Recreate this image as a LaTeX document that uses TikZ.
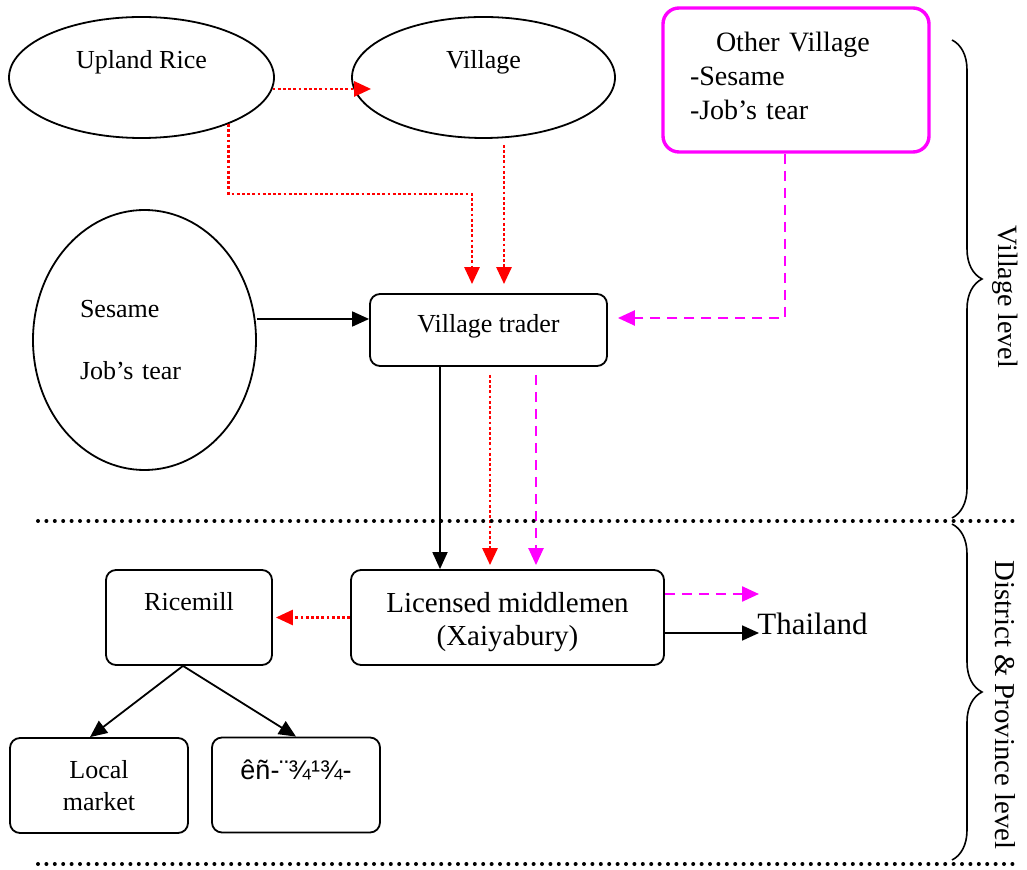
\documentclass[tikz,border=0pt]{standalone}
\usepackage{fontspec}
\setmainfont{Liberation Serif}
\newfontfamily\laofont{Liberation Sans}
\usetikzlibrary{arrows.meta, calc, shapes.geometric, decorations.pathreplacing}
\definecolor{vmagenta}{RGB}{255,0,255}
\definecolor{vred}{RGB}{255,0,0}
\tikzset{every node/.style={font=\fontsize{13}{15.6}\selectfont}}
\tikzset{oval/.style={draw, ellipse, line width=0.9pt}}
\tikzset{rbox/.style={draw, rounded corners=5pt, line width=0.9pt, minimum height=47.5pt}}
\tikzset{headtip/.style={-{Triangle[length=8.5pt, width=7.5pt]}}}
\tikzset{flow/.style={headtip, line width=0.9pt}}
\tikzset{riceflow/.style={headtip, vred, line width=1.4pt, dash pattern=on 1.4pt off 1.2pt}}
\tikzset{otherflow/.style={headtip, vmagenta, line width=1.2pt, dash pattern=on 5pt off 3.5pt}}
\tikzset{levelline/.style={line width=2pt, line cap=round, dash pattern=on 0pt off 4.2pt}}
\tikzset{levelbrace/.style={decorate, decoration={brace, amplitude=15pt}, line width=0.8pt}}

\begin{document}
\begin{tikzpicture}[x=0.5pt, y=-0.5pt]
\useasboundingbox (0,0) rectangle (1027,870);
\node[oval, minimum width=132.5pt, minimum height=60.5pt, text depth=18pt] (upland) at (141.5,77.5) {Upland Rice};
\node[oval, minimum width=131.5pt, minimum height=60.5pt, text depth=18pt] (village) at (483.5,77.5) {Village};
\node[oval, minimum width=111.5pt, minimum height=130pt, text width=64.5pt, align=left] (crops) at (144.5,340) {Sesame\\[15.4pt]Job's tear};
\node[rbox, minimum width=118.5pt, minimum height=36pt, text depth=7pt] (trader) at (488.5,330) {Village trader};
\node[rbox, draw=vmagenta, line width=1.7pt, rounded corners=8pt, minimum width=133pt, minimum height=72pt,
      text width=106pt, align=left, font=\fontsize{14}{17}\selectfont] (other) at (796,80)
      {\hspace*{13pt}Other Village\\-Sesame\\-Job's tear\rule[-4pt]{0pt}{4pt}};
\node[rbox, minimum width=156.5pt, align=center, font=\fontsize{14.5}{16.5}\selectfont] (lic) at (507.5,617.5)
      {\rule{0pt}{14.9pt}Licensed middlemen\\(Xaiyabury)};
\node[rbox, minimum width=83pt, text depth=16pt] (mill) at (189,617.5) {Ricemill};
\node[rbox, minimum width=89pt, align=center] (local) at (99,785.5) {Local\\[0.4pt]market};
\node[rbox, minimum width=84pt, text depth=15pt, font=\laofont\fontsize{13.5}{16}\selectfont] (lao) at (296,785) {êñ-¨¾¹¾-};
\node[anchor=west, inner sep=0pt, font=\fontsize{15.5}{18}\selectfont] (thai) at (757,624) {Thailand};

\draw[riceflow, shorten >=-10pt] (upland.-5.5) -- (upland.-5.5 -| village.west);
\coordinate (riceA) at ($(trader.north)+(-16.5,-9)$);
\draw[riceflow] (upland.-28) -- ++(0,70) -| (riceA);
\draw[riceflow] ($(village.south)+(20.5,6)$) -- ($(trader.north)+(15.5,-9)$);
\coordinate (sesIn) at ($(trader.west)+(0,-11)$);
\draw[flow] (crops.east |- sesIn) -- (sesIn);
\draw[otherflow] ($(other.south)+(-11,0)$) |- ($(trader.east)+(10,-12)$);

\draw[flow] ($(trader.south)+(-48.5,0)$) -- ($(lic.north)+(-67.5,0)$);
\draw[riceflow] ($(trader.south)+(1.5,8)$) -- ($(lic.north)+(-17.5,-4)$);
\draw[otherflow] ($(trader.south)+(47.5,8)$) -- ($(lic.north)+(28.5,-4)$);

\draw[otherflow, shorten >=-1pt] ($(lic.east)+(0,-23.5)$) coordinate (exA) -- (exA -| thai.west);
\draw[flow, shorten >=-1pt] ($(lic.east)+(0,15.5)$) coordinate (exB) -- (exB -| thai.west);
\draw[riceflow] (lic.west) -- ($(mill.east)+(3,0)$);
\draw[flow] ($(mill.south)+(-6,0)$) -- ($(local.north)+(-9,0)$);
\draw[flow] ($(mill.south)+(-6,0)$) -- (lao.north);

\draw[levelline] (38,521) -- (1020,521);
\draw[levelline] (38,864) -- (1020,864);
\draw[levelbrace] (952,40) -- (952,518);
\draw[levelbrace] (952,524) -- (952,860);
\node[rotate=-90, font=\fontsize{14}{17}\selectfont] (vlevel) at (1005,297) {Village level};
\node[rotate=-90, font=\fontsize{14.4}{17}\selectfont] (plevel) at (1005,705) {District \& Province level};
\end{tikzpicture}
\end{document}
